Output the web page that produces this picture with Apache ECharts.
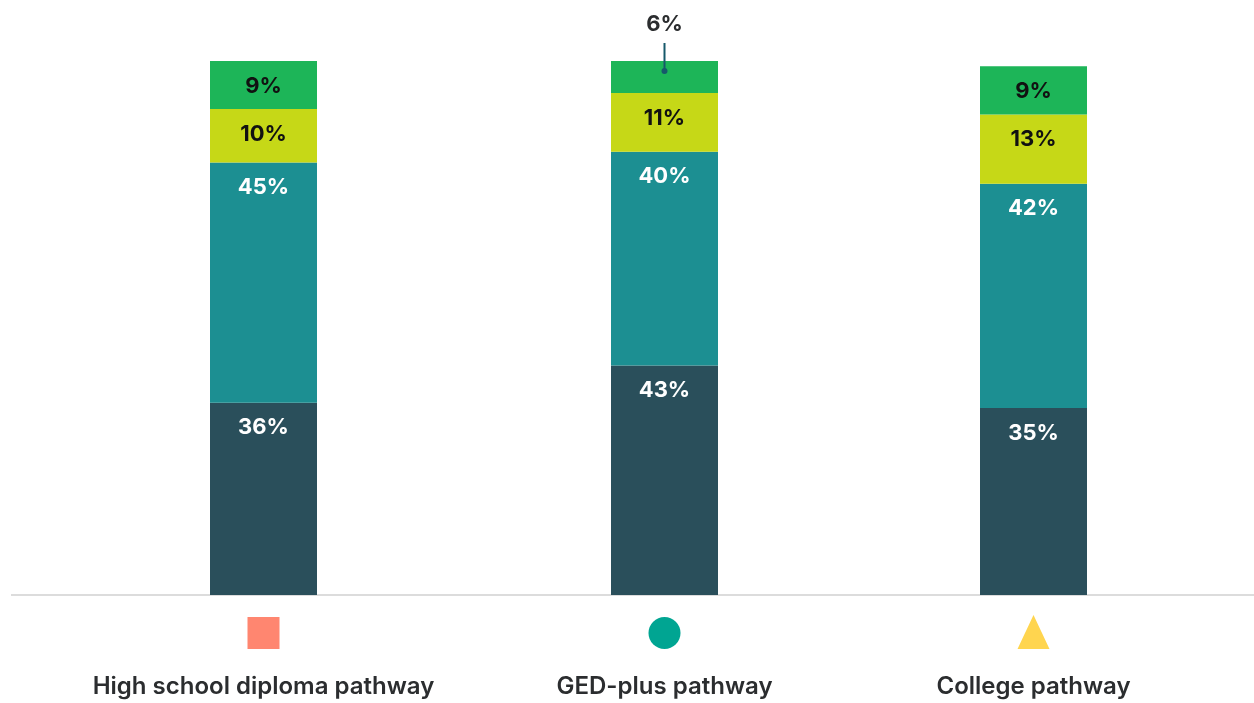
<!DOCTYPE html>
<html>
<head>
<meta charset="utf-8">
<style>
  html, body { margin: 0; padding: 0; background: #ffffff; }
  #chart { width: 1254px; height: 703px; }
</style>
<script src="https://cdn.jsdelivr.net/npm/echarts@6/dist/echarts.min.js"></script>
</head>
<body>
<div id="chart"></div>
<script>
// Pathway categories and their share breakdown (percent of each pathway)
const categories = ['High school diploma pathway', 'GED-plus pathway', 'College pathway'];
const darkShare  = [36, 43, 35];
const tealShare  = [45, 40, 42];
const limeShare  = [10, 11, 13];
const greenShare = [9, 6, 9];

const FONT = 'Inter, "Open Sans", "DejaVu Sans", sans-serif';
const segments = [
  { key: 'dark',  values: darkShare,  color: '#2A4F5B', text: '#ffffff' },
  { key: 'teal',  values: tealShare,  color: '#1C8F92', text: '#ffffff' },
  { key: 'lime',  values: limeShare,  color: '#C6D817', text: '#111111' },
  { key: 'green', values: greenShare, color: '#1DB558', text: '#111111' }
];

// each pathway gets its own grid so the columns can sit at their own spots
const columnCenters = [263.5, 664.5, 1033.5];
const gridW = 300;

const grids = [], xAxes = [], yAxes = [], series = [];
categories.forEach((cat, i) => {
  grids.push({ left: columnCenters[i] - gridW / 2, width: gridW, top: 61, bottom: 108 });
  xAxes.push({
    gridIndex: i, type: 'category', data: [cat],
    axisLine: { show: false }, axisTick: { show: false },
    axisLabel: { margin: 80, fontSize: 24, fontWeight: 600, color: '#2b2d2f', fontFamily: FONT }
  });
  yAxes.push({ gridIndex: i, type: 'value', min: 0, max: 100, show: false, splitLine: { show: false } });
  segments.forEach(seg => {
    const small = seg.key === 'green' && seg.values[i] < 8;
    series.push({
      type: 'bar', name: seg.key, stack: 'col' + i,
      xAxisIndex: i, yAxisIndex: i, barWidth: 107,
      itemStyle: { color: seg.color },
      label: {
        show: true,
        position: small ? 'top' : 'insideTop',
        distance: small ? 26 : 14,
        formatter: '{c}%',
        fontSize: 22, fontWeight: 'bold', fontFamily: FONT,
        color: small ? '#2b2d2f' : seg.text
      },
      data: [seg.values[i]],
      z: 3
    });
  });
});

const chart = echarts.init(document.getElementById('chart'), null, { renderer: 'canvas' });
chart.setOption({
  animation: false,
  grid: grids, xAxis: xAxes, yAxis: yAxes, series: series
});

// baseline, pathway markers and the leader for the small top segment
const baseY = chart.convertToPixel({ yAxisIndex: 0 }, 0);
const graphics = [{
  type: 'line', z: 1,
  shape: { x1: 11, y1: baseY, x2: 1254, y2: baseY },
  style: { stroke: '#dcdcdc', lineWidth: 2 }
}];
const markerY = baseY + 38;
const markers = ['rect', 'circle', 'triangle'];
const markerColors = ['#FF8670', '#00A592', '#FFD54F'];
categories.forEach((cat, i) => {
  const cx = chart.convertToPixel({ xAxisIndex: i }, cat);
  if (markers[i] === 'rect') {
    graphics.push({ type: 'rect', shape: { x: cx - 16, y: markerY - 16, width: 32, height: 32 }, style: { fill: markerColors[i] } });
  } else if (markers[i] === 'circle') {
    graphics.push({ type: 'circle', shape: { cx: cx, cy: markerY, r: 16 }, style: { fill: markerColors[i] } });
  } else {
    graphics.push({ type: 'polygon', shape: { points: [[cx, markerY - 18], [cx + 16, markerY + 16], [cx - 16, markerY + 16]] }, style: { fill: markerColors[i] } });
  }
  if (greenShare[i] < 8) {
    const total = darkShare[i] + tealShare[i] + limeShare[i] + greenShare[i];
    const topY = chart.convertToPixel({ yAxisIndex: i }, total);
    graphics.push({ type: 'line', z: 10, shape: { x1: cx, y1: topY - 18, x2: cx, y2: topY + 10 }, style: { stroke: '#17596B', lineWidth: 2 } });
    graphics.push({ type: 'circle', z: 10, shape: { cx: cx, cy: topY + 10, r: 3 }, style: { fill: '#17596B' } });
  }
});
chart.setOption({ graphic: graphics });
</script>
</body>
</html>
